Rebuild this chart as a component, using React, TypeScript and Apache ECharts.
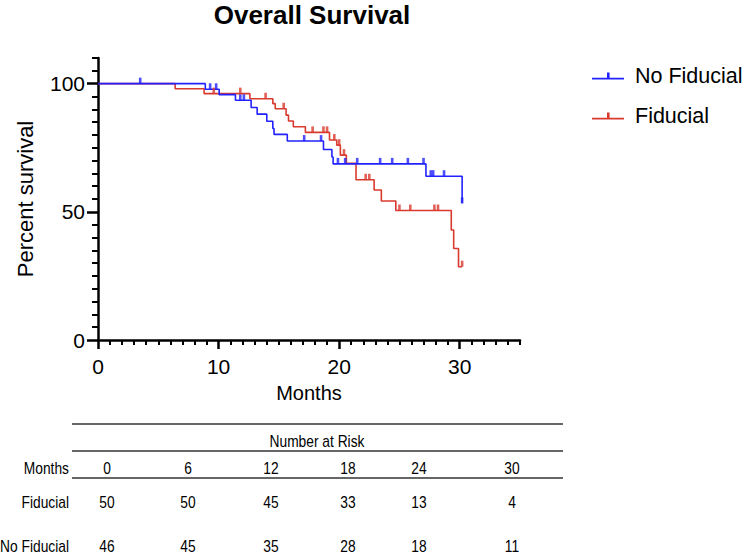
import React, { useEffect, useRef } from "react";
import * as echarts from "echarts";

// Kaplan-Meier steps: [month, percent survival] (value held until next point)
const noFiducialSteps: [number, number][] = [
  [0, 100], [8.9, 97.8], [10.05, 95.7], [11.4, 93.5], [12.7, 90.7], [13.2, 88.1],
  [14.0, 85.3], [14.5, 82.5], [14.6, 80.2], [15.7, 77.6], [18.7, 74.3], [19.4, 71.4],
  [19.5, 68.7], [27.2, 63.9], [30.2, 53.3],
];
const noFiducialCensored: [number, number][] = [
  [3.5, 100], [9.3, 97.8], [9.8, 97.8], [11.8, 93.5], [12.1, 93.5], [17.1, 77.6],
  [18.5, 77.6], [19.9, 68.7], [20.5, 68.7], [21.5, 68.7], [23.4, 68.7], [24.4, 68.7],
  [25.7, 68.7], [27.0, 68.7], [27.6, 63.9], [27.8, 63.9], [28.7, 63.9], [30.2, 53.3],
];
const fiducialSteps: [number, number][] = [
  [0, 100], [6.4, 98.0], [8.8, 96.1], [12.6, 94.1], [14.5, 92.2], [14.7, 90.2],
  [15.6, 87.7], [15.8, 85.4], [16.2, 83.2], [17.2, 81.0], [19.2, 78.0], [19.8, 76.0],
  [20.1, 72.1], [20.6, 68.9], [21.4, 62.5], [22.9, 58.5], [23.5, 54.2], [24.7, 50.5],
  [29.3, 42.9], [29.5, 35.7], [29.9, 28.6], [30.2, 28.6],
];
const fiducialCensored: [number, number][] = [
  [9.6, 96.1], [11.8, 96.1], [13.9, 94.1], [15.4, 90.2], [17.8, 81.0], [18.7, 81.0],
  [19.0, 81.0], [19.6, 78.0], [20.0, 76.0], [20.4, 72.1], [22.2, 62.5], [22.5, 62.5],
  [25.0, 50.5], [25.9, 50.5], [27.9, 50.5], [28.2, 50.5], [30.2, 28.6],
];

const xMajorTicks = [0, 10, 20, 30];
const xMinorTicks = [1, 2, 3, 4, 5, 6, 7, 8, 9, 11, 12, 13, 14, 15, 16, 17, 18, 19, 21, 22, 23, 24, 25, 26, 27, 28, 29, 31, 32, 33, 34, 35];
const yMajorTicks = [0, 50, 100];
const yMinorTicks = [5, 10, 15, 20, 25, 30, 35, 40, 45, 55, 60, 65, 70, 75, 80, 85, 90, 95, 105, 110];

const riskMonths = ["0", "6", "12", "18", "24", "30"];
const riskFiducial = [50, 50, 45, 33, 13, 4];
const riskNoFiducial = [46, 45, 35, 28, 18, 11];

const BLUE = "#2222ff";
const RED = "#d93a2e";
const FONT = "'Liberation Sans', Arial, Helvetica, sans-serif";

export default function App() {
  const ref = useRef<HTMLDivElement>(null);
  useEffect(() => {
    if (!ref.current) return;
    const chart = echarts.init(ref.current, undefined, { renderer: "svg" });

    const colX = [107, 188, 271, 348, 419, 512];
    const tableText = (text: string, x: number, y: number, align: string = "center") => ({
      type: "text",
      x,
      y,
      scaleX: 0.82,
      style: {
        text,
        fill: "#000",
        font: `16.8px ${FONT}`,
        align,
        verticalAlign: "middle",
      },
    });
    const graphics: any[] = [
      { type: "line", shape: { x1: 72, y1: 424, x2: 563, y2: 424 }, style: { stroke: "#333", lineWidth: 1.3 } },
      { type: "line", shape: { x1: 72, y1: 451, x2: 563, y2: 451 }, style: { stroke: "#333", lineWidth: 1.3 } },
      { type: "line", shape: { x1: 72, y1: 478, x2: 563, y2: 478 }, style: { stroke: "#333", lineWidth: 1.3 } },
      tableText("Number at Risk", 317, 441),
      tableText("Months", 69, 468, "right"),
      tableText("Fiducial", 69, 502, "right"),
      tableText("No Fiducial", 69, 546, "right"),
    ];
    riskMonths.forEach((m, i) => graphics.push(tableText(m, colX[i], 468)));
    riskFiducial.forEach((v, i) => graphics.push(tableText(String(v), colX[i], 502)));
    riskNoFiducial.forEach((v, i) => graphics.push(tableText(String(v), colX[i], 546)));

    const legendIcon = "path://M0,6.2H32V7.8H0Z M15,1H17.6V6.2H15Z";

    chart.setOption({
      animation: false,
      backgroundColor: "#fff",
      title: {
        text: "Overall Survival",
        left: 312,
        textAlign: "center",
        top: 0,
        padding: 0,
        textStyle: { fontFamily: FONT, fontWeight: "bold", fontSize: 26, lineHeight: 29, color: "#000" },
      },
      legend: {
        orient: "vertical",
        left: 587,
        top: 58,
        itemWidth: 32,
        itemHeight: 8,
        itemGap: 14,
        data: [
          { name: "No Fiducial", icon: legendIcon },
          { name: "Fiducial", icon: legendIcon },
        ],
        textStyle: { fontFamily: FONT, fontSize: 21.5, color: "#000", lineHeight: 26, padding: [0, 0, 0, 6] },
      },
      grid: { left: 98, right: 227, top: 58, bottom: 215 },
      xAxis: [
        {
          type: "value",
          min: 0,
          max: 35,
          position: "bottom",
          name: "Months",
          nameLocation: "middle",
          nameGap: 43,
          nameTextStyle: { fontFamily: FONT, fontSize: 20, color: "#000" },
          axisLine: { show: true, lineStyle: { color: "#000", width: 2.5 } },
          axisTick: { show: true, customValues: xMajorTicks, length: 9, lineStyle: { color: "#000", width: 2.5 } },
          axisLabel: { customValues: xMajorTicks, margin: 16, fontFamily: FONT, fontSize: 21, color: "#000" },
          splitLine: { show: false },
        },
        {
          type: "value",
          min: 0,
          max: 35,
          position: "bottom",
          axisLine: { show: false },
          axisTick: { show: true, customValues: xMinorTicks, length: 5, lineStyle: { color: "#000", width: 2 } },
          axisLabel: { show: false },
          splitLine: { show: false },
        },
      ],
      yAxis: [
        {
          type: "value",
          min: 0,
          max: 110,
          position: "left",
          name: "Percent survival",
          nameLocation: "middle",
          nameGap: 62,
          nameRotate: 90,
          nameTextStyle: { fontFamily: FONT, fontSize: 22, color: "#000" },
          axisLine: { show: true, lineStyle: { color: "#000", width: 2.5 } },
          axisTick: { show: true, customValues: yMajorTicks, length: 11, lineStyle: { color: "#000", width: 2.5 } },
          axisLabel: { customValues: yMajorTicks, margin: 13, fontFamily: FONT, fontSize: 21, color: "#000" },
          splitLine: { show: false },
        },
        {
          type: "value",
          min: 0,
          max: 110,
          position: "left",
          axisLine: { show: false },
          axisTick: { show: true, customValues: yMinorTicks, length: 6, lineStyle: { color: "#000", width: 2 } },
          axisLabel: { show: false },
          splitLine: { show: false },
        },
      ],
      series: [
        {
          name: "No Fiducial",
          type: "line",
          step: "end",
          data: noFiducialSteps,
          showSymbol: false,
          symbol: "none",
          color: BLUE,
          lineStyle: { color: BLUE, width: 1.6 },
          z: 3,
        },
        {
          name: "Fiducial",
          type: "line",
          step: "end",
          data: fiducialSteps,
          showSymbol: false,
          symbol: "none",
          color: RED,
          lineStyle: { color: RED, width: 1.6 },
          z: 2,
        },
        {
          name: "No Fiducial censored",
          type: "scatter",
          data: noFiducialCensored,
          symbol: "rect",
          symbolSize: [2.6, 6],
          symbolOffset: [0, -3],
          itemStyle: { color: BLUE },
          z: 4,
        },
        {
          name: "Fiducial censored",
          type: "scatter",
          data: fiducialCensored,
          symbol: "rect",
          symbolSize: [2.6, 6],
          symbolOffset: [0, -3],
          itemStyle: { color: RED },
          z: 4,
        },
      ],
      graphic: graphics,
    });
    return () => chart.dispose();
  }, []);
  return <div ref={ref} style={{ position: "absolute", left: 0, top: 0, width: 747, height: 555 }} />;
}
